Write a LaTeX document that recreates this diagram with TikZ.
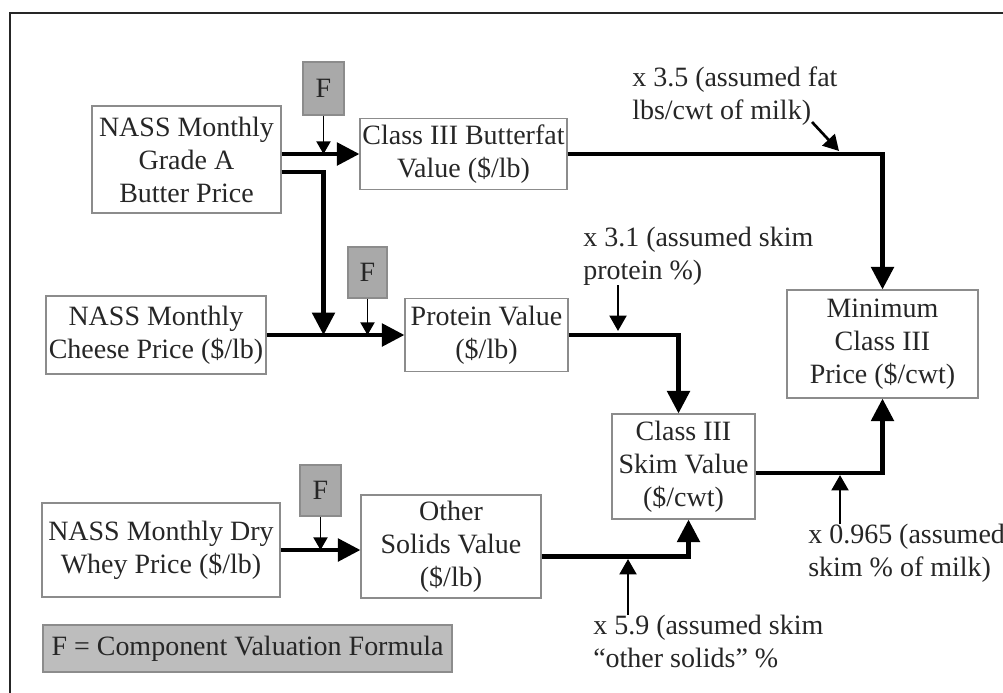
\documentclass[tikz,border=0pt]{standalone}
\usepackage{fontspec}
\setmainfont{Liberation Serif}
\usepackage{tikz}
\usetikzlibrary{arrows.meta,calc}
\definecolor{boxline}{HTML}{8C8C8C}
\definecolor{ffill}{HTML}{A9A9A9}
\definecolor{legfill}{HTML}{BDBDBD}
\definecolor{inkgray}{HTML}{262626}
\tikzset{
  wh/.style 2 args={minimum width={#1*0.025cm}, minimum height={#2*0.025cm}},
  box/.style={draw=boxline, line width=0.9pt, align=center, inner sep=1pt, text=inkgray},
  fbox/.style={box, fill=ffill},
  legbox/.style={box, fill=legfill},
  note/.style={align=left, inner sep=0pt, anchor=west, text=inkgray},
  flow/.style={line width=2.9pt, -{Triangle[length=16pt,width=16pt]}},
  finput/.style={line width=1.4pt, -{Triangle[length=9pt,width=10pt]}},
  mult/.style={line width=1.9pt, -{Triangle[length=11pt,width=12pt]}},
  frame/.style={draw=inkgray, line width=1.8pt}
}
\begin{document}
\begin{tikzpicture}[x=0.025cm, y=-0.025cm, node font=\fontsize{19.9}{23.5}\selectfont]
  \useasboundingbox (0,0) rectangle (1003,692);
  \draw[frame] (10,13) rectangle (1020,710);

  % prices
  \node[box, wh={189}{107}] (butter) at (186.5,159.5) {NASS Monthly\\Grade A\\Butter Price};
  \node[box, wh={220}{78}] (cheese) at (156,335) {NASS Monthly\\Cheese Price (\$/lb)};
  \node[box, wh={238}{94}] (whey) at (161,550) {NASS Monthly Dry\\Whey Price (\$/lb)};

  % formulas
  \node[fbox, wh={41}{53}] (f1) at (323.5,88.5) {F};
  \node[fbox, wh={39}{51}] (f2) at (367.5,272.5) {F};
  \node[fbox, wh={41}{51}] (f3) at (320.5,490.5) {F};

  % component values
  \node[box, wh={207}{71}] (fat) at (463.5,154) {Class III Butterfat\\Value (\$/lb)};
  \node[box, wh={163}{73}] (protein) at (486.5,335) {Protein Value\\(\$/lb)};
  \node[box, wh={180}{103}] (other) at (451,546.5) {Other\\Solids Value\\(\$/lb)};
  \node[box, wh={143}{105}] (skim) at (683.5,466.5) {Class III\\Skim Value\\(\$/cwt)};
  \node[box, wh={191}{108}] (minp) at (882.5,344) {Minimum\\Class III\\Price (\$/cwt)};

  \node[legbox, wh={409}{47}] (legend) at (247.5,648.5) {F = Component Valuation Formula};

  % multipliers
  \node[note] (lblfat) at (632,96.5) {x 3.5 (assumed fat\\lbs/cwt of milk)};
  \node[note] (lblprot) at (583,256) {x 3.1 (assumed skim\\protein \%)};
  \node[note] (lblskim) at (808,553.5) {x 0.965 (assumed\\skim \% of milk)};
  \node[note] (lblsol) at (593,641.5) {x 5.9 (assumed skim\\“other solids” \%};

  \coordinate (fattail) at (812,122);
  \coordinate (fatmul) at (839,151);
  \coordinate (protmul) at (618,331);
  \coordinate (skimmul) at (840,475);
  \coordinate (solmul) at (628,559);

  % connectors
  \draw[flow] (butter.east |- fat.west) -- (fat.west);
  \draw[finput] (f1.south) -- (f1.south |- fat.west);
  \draw[flow] ($(butter.east)+(0,12.5)$) -| (f1.south |- protein.west);
  \draw[flow] (cheese.east) -- (protein.west);
  \draw[finput] (f2.south) -- (f2.south |- protein.west);
  \draw[flow] (whey.east) -- (other.west |- whey.east);
  \draw[finput] (f3.south) -- (f3.south |- whey.east);
  \draw[flow] (protein.east) -| ($(skim.north)+(-5,0)$);
  \draw[flow] ($(other.east)+(0,10)$) -| ($(skim.south)+(5,0)$);
  \draw[flow] (fat.east) -| (minp.north);
  \draw[flow] ($(skim.east)+(0,6.5)$) -| (minp.south);

  \draw[mult] (fattail) -- (fatmul);
  \draw[mult] (protmul |- lblprot.south) -- (protmul);
  \draw[mult] (skimmul |- lblskim.north) -- (skimmul);
  \draw[mult] (solmul |- lblsol.north) -- (solmul);
\end{tikzpicture}
\end{document}
